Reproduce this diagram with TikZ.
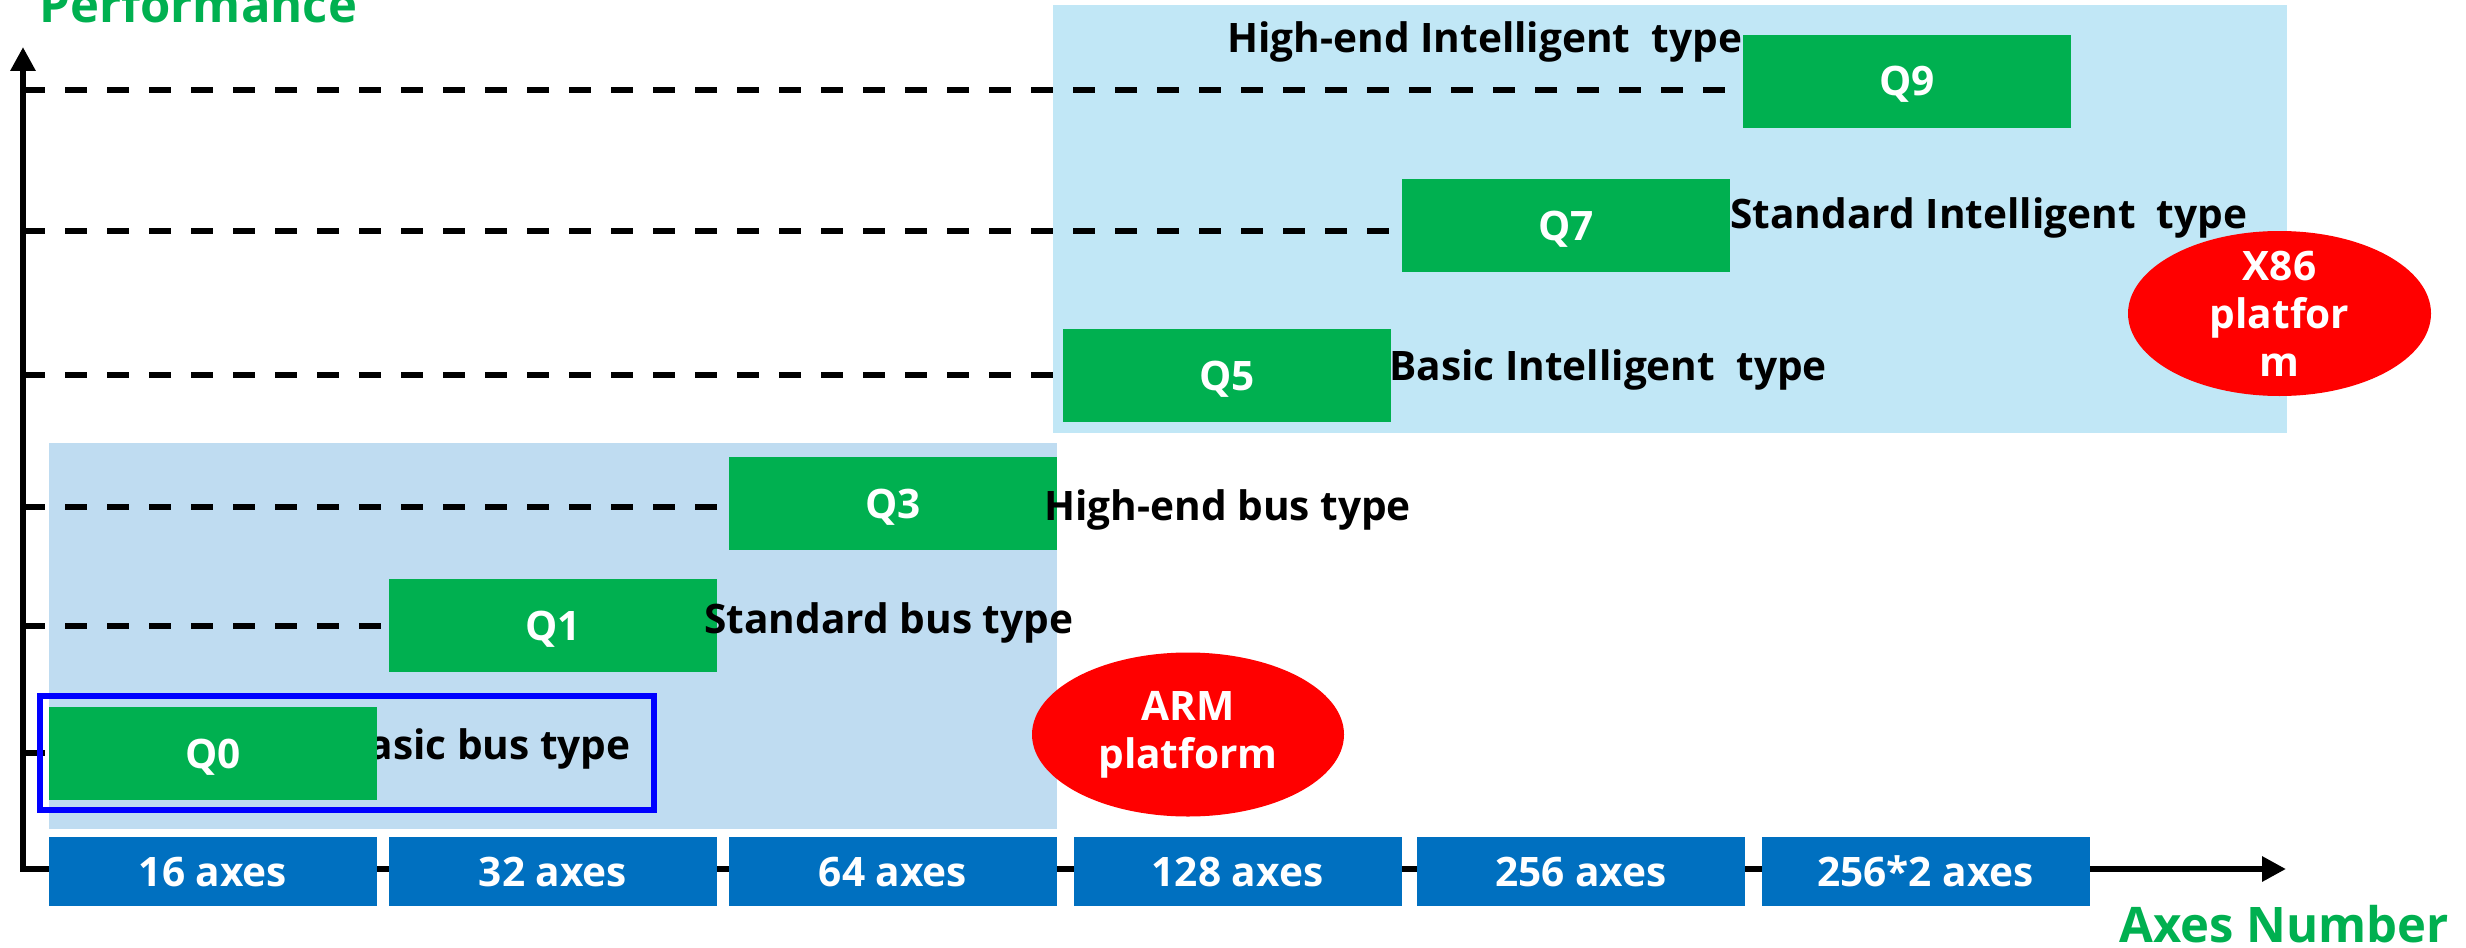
\documentclass[tikz,border=0pt]{standalone}
\usepackage{fontspec}
\setmainfont{Open Sans}
\usetikzlibrary{arrows.meta,shapes.geometric}
\definecolor{qgreen}{HTML}{00B050}
\definecolor{axblue}{HTML}{0070C0}
\definecolor{armbg}{HTML}{BFDCF1}
\definecolor{xbg}{HTML}{C1E7F6}
\definecolor{ellred}{HTML}{FF0000}
\definecolor{outlineblue}{HTML}{0000FF}
\begin{document}
\begin{tikzpicture}[x=0.5pt,y=-0.5pt,
  lblfont/.style={font=\bfseries\fontsize{20.3}{24}\selectfont},
  qbox/.style={lblfont, fill=qgreen, text=white, minimum width=164pt, minimum height=46.5pt, inner sep=0pt, text height=14.5pt, text depth=0pt},
  axbox/.style={lblfont, fill=axblue, text=white, minimum width=164pt, minimum height=34.5pt, inner sep=0pt, text height=14.5pt, text depth=0pt},
  typelabel/.style={lblfont, text=black, inner sep=0pt},
  guide/.style={line width=3pt, dash pattern=on 11pt off 10pt},
  axisline/.style={line width=3pt, {Triangle[length=12pt,width=12pt]}-{Triangle[length=12pt,width=12pt]}},
  platform/.style={ellipse, fill=ellred, inner sep=0pt},
  platlabel/.style={lblfont, align=center, text=white, inner sep=0pt},
  charttitle/.style={text=qgreen, font=\bfseries\fontsize{24.5}{28}\selectfont, inner sep=0pt}
]
\useasboundingbox (0,0) rectangle (2466,947);
% backgrounds
\fill[armbg] (49,443) rectangle (1057,829);
\fill[xbg] (1053,5) rectangle (2287,433);
% axes
\coordinate (ytop) at (23,47);
\coordinate (O) at (23,869);
\coordinate (xend) at (2286,869);
\draw[axisline] (ytop) -- (O) -- (xend);
% axis boxes
\node[axbox] (a16) at (213,871.5) {16 axes};
\node[axbox] (a32) at (553,871.5) {32 axes};
\node[axbox] (a64) at (893,871.5) {64 axes};
\node[axbox] (a128) at (1237.5,871.5) {128 axes};
\node[axbox] (a256) at (1581,871.5) {256 axes};
\node[axbox] (a512) at (1925.5,871.5) {256*2 axes};
% label partly hidden behind Q0
\node[typelabel, anchor=base east] (t0) at (631,759) {Basic bus type};
% Q boxes
\node[qbox] (q0) at (213,753.5) {Q0};
\node[qbox] (q1) at (553,625.5) {Q1};
\node[qbox] (q3) at (893,503.5) {Q3};
\node[qbox] (q5) at (1227,375.5) {Q5};
\node[qbox] (q7) at (1566,225.5) {Q7};
\node[qbox] (q9) at (1907,81.5) {Q9};
% type labels
\node[typelabel, anchor=base west] (t1) at (704,633) {Standard bus type};
\node[typelabel, anchor=base west] (t3) at (1044,520) {High-end bus type};
\node[typelabel, anchor=base west] (t5) at (1389,380) {Basic Intelligent\ \ type};
\node[typelabel, anchor=base west] (t7) at (1730,228) {Standard Intelligent\ \ type};
\node[typelabel, anchor=base west] (t9) at (1227,53) {High-end Intelligent\ \ type};
% guides
\coordinate (g0) at (23,753);
\coordinate (g1) at (23,626);
\coordinate (g3) at (23,507);
\coordinate (g5) at (23,375);
\coordinate (g7) at (23,231);
\coordinate (g9) at (23,90);
\draw[guide] (g0) -- (g0 -| q0.west);
\draw[guide] (g1) -- (g1 -| q1.west);
\draw[guide] (g3) -- (g3 -| q3.west);
\draw[guide] (g5) -- (g5 -| q5.west);
\draw[guide] (g7) -- (g7 -| q7.west);
\draw[guide] (g9) -- (g9 -| q9.west);
% highlight
\draw[outlineblue, line width=3pt] (40,696) rectangle (654,810);
% platforms
\node[platform, minimum width=156pt, minimum height=82pt] (arm) at (1188,734.5) {};
\node[platlabel] (armt) at (arm) {ARM\\platform};
\node[platform, minimum width=151.5pt, minimum height=82.5pt] (x86) at (2279.5,313.5) {};
\node[platlabel] (x86t) at (x86) {X86\\platfor\\m};
% titles
\node[charttitle, anchor=base west] (perf) at (39,23) {Performance};
\node[charttitle, anchor=base west] (axn) at (2119,942) {Axes Number};
\end{tikzpicture}
\end{document}
